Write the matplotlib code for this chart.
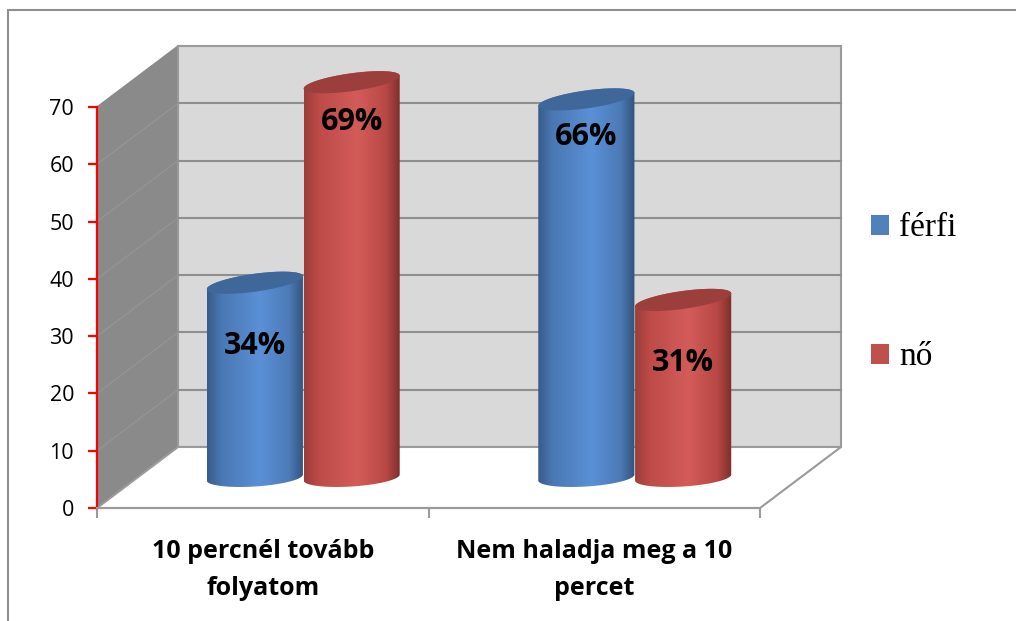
import numpy as np
import matplotlib
matplotlib.use('Agg')
import matplotlib.pyplot as plt
from matplotlib.patches import Polygon, PathPatch, Rectangle, Patch
from matplotlib.path import Path
from matplotlib.colors import to_rgb

# data
categories = ['10 percnél tovább\nfolyatom', 'Nem haladja meg a 10\npercet']
series = ['férfi', 'nő']
ferfi = [34, 66]
no = [69, 31]
yticks = [0, 10, 20, 30, 40, 50, 60, 70]

# look
body_stops = {
    'férfi': ['#385b8a', '#4a78b3', '#5a90d6', '#4c7bb6', '#33527c'],
    'nő': ['#9c3d3a', '#bd4b48', '#d35c59', '#b84845', '#7c2e2c'],
}
cap_color = {'férfi': '#40679a', 'nő': '#9c3f3c'}
legend_color = {'férfi': '#4f81bd', 'nő': '#c0504d'}
label_drop = {'férfi': [11.0, 6.6], 'nő': [7.0, 11.0]}

YMAX = 70
DX, DY = 0.2443, 10.65      # depth offset of the back wall (cat units, value units)
W = 0.29                    # cylinder diameter in category units
B = 1.57                    # ellipse half height in value units
S_TOP, S_BOT = 1.13, 0.52   # perspective tilt of top / bottom ellipses

fig = plt.figure(figsize=(10.16, 6.21), dpi=100)
ax = fig.add_axes([0, 0, 1, 1])
ax.set_facecolor('none')

# walls and floor
ax.add_patch(Polygon([(0, 0), (0, YMAX), (DX, YMAX + DY), (DX, DY)],
                     closed=True, fc='#8a8a8a', ec='#8a8a8a', lw=1, zorder=0.5))
ax.add_patch(Rectangle((DX, DY), 2, YMAX, fc='#d9d9d9', ec='#9a9a9a', lw=1.5, zorder=0.5))
ax.add_patch(Polygon([(0, 0), (2, 0), (2 + DX, DY), (DX, DY)],
                     closed=True, fc='white', ec='#9a9a9a', lw=1.5, zorder=0.6))
for v in yticks[1:-1]:
    ax.plot([DX, 2 + DX], [v + DY, v + DY], color='#8f8f8f', lw=1.5, zorder=0.7)
    ax.plot([0, DX], [v, v + DY], color='#969696', lw=0.8, zorder=0.7)


def cylinder(cx, value, name):
    a = W / 2
    base = DY / 2
    top = value + DY / 2
    t_low = np.linspace(np.pi, 2 * np.pi, 60)
    t_up = np.linspace(0, np.pi, 60)
    bx = cx + a * np.cos(t_low)
    by = base + B * np.sin(t_low) + S_BOT * np.cos(t_low)
    tx = cx + a * np.cos(t_up)
    ty = top + B * np.sin(t_up) + S_TOP * np.cos(t_up)
    verts = np.vstack([np.column_stack([bx, by]), np.column_stack([tx, ty]), [[bx[0], by[0]]]])
    codes = [Path.MOVETO] + [Path.LINETO] * (len(verts) - 2) + [Path.CLOSEPOLY]
    body = PathPatch(Path(verts, codes), fc='none', ec='none', transform=ax.transData)
    ax.add_patch(body)

    stops = np.array([to_rgb(c) for c in body_stops[name]])
    pos = np.array([0, 0.15, 0.55, 0.85, 1.0])
    xs = np.linspace(0, 1, 200)
    grad = np.stack([np.interp(xs, pos, stops[:, i]) for i in range(3)], axis=-1)
    im = ax.imshow(grad[np.newaxis], extent=(cx - a, cx + a, base - 3, top + 3),
                   aspect='auto', interpolation='bilinear', zorder=3)
    im.set_clip_path(body)

    t = np.linspace(0, 2 * np.pi, 120)
    cap = Polygon(np.column_stack([cx + a * np.cos(t),
                                   top + B * np.sin(t) + S_TOP * np.cos(t)]),
                  closed=True, fc=cap_color[name], ec='none', zorder=3.1)
    ax.add_patch(cap)
    return top


offsets = {'férfi': -0.146, 'nő': 0.146}
for name, vals in (('férfi', ferfi), ('nő', no)):
    for i, v in enumerate(vals):
        cx = i + 0.5 + DX / 2 + offsets[name]
        top = cylinder(cx, v, name)
        ax.text(cx, top - label_drop[name][i], f'{v}%', ha='center', va='center',
                fontsize=22, fontweight='bold', family='Open Sans', zorder=5)

# axes
ax.set_xlim(-97 / 331.5, 919 / 331.5)
ax.set_ylim(-113 / 5.7286, 508 / 5.7286)
for s in ('top', 'right'):
    ax.spines[s].set_visible(False)
ax.spines['left'].set_position(('data', 0))
ax.spines['left'].set_bounds(0, YMAX)
ax.spines['left'].set_color('red')
ax.spines['left'].set_linewidth(1.6)
ax.spines['left'].set_zorder(2.5)
ax.spines['bottom'].set_position(('data', 0))
ax.spines['bottom'].set_bounds(0, 2)
ax.spines['bottom'].set_color('#9a9a9a')
ax.spines['bottom'].set_linewidth(1.5)
ax.set_yticks(yticks)
ax.tick_params(axis='y', colors='red', length=6.5, width=1.6, pad=10,
               labelsize=15.5, labelcolor='black')
ax.set_xticks([0, 1, 2])
ax.set_xticklabels([])
ax.tick_params(axis='x', colors='#9a9a9a', length=7, width=1.5)
for lab in ax.get_yticklabels():
    lab.set_family('Open Sans')
for i, c in enumerate(categories):
    ax.text(i + 0.5, -10.8, c, ha='center', va='center', fontsize=18,
            fontweight='bold', family='Open Sans', linespacing=1.6)

handles = [Patch(fc=legend_color[s], ec='none') for s in series]
fig.legend(handles, series, loc='upper left', bbox_to_anchor=(841 / 1016, 1 - 183 / 621),
           frameon=False, prop={'family': 'Liberation Serif', 'size': 24},
           handlelength=0.55, handleheight=0.55, handletextpad=0.3, labelspacing=2.95)

# chart border
fig.patches.append(Rectangle((8 / 1016, -0.1), 1.2, 1 - 10 / 621 + 0.1,
                             transform=fig.transFigure, fill=False,
                             ec='#8f8f8f', lw=1.5))

fig.savefig('out.png', dpi=100)
